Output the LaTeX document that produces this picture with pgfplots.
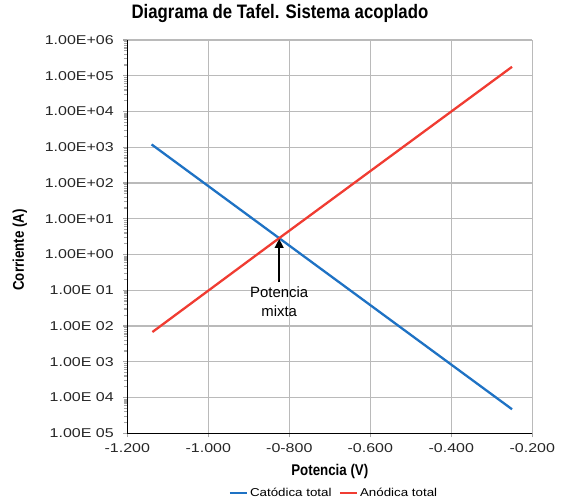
\documentclass[border=0pt]{standalone}
\usepackage{pgfplots}
\pgfplotsset{compat=1.18}
\usetikzlibrary{arrows.meta}
\usepackage{fontspec}
\setmainfont{Liberation Sans}
\newfontfamily\tickfont[FakeStretch=1.25]{Liberation Sans}
\newfontfamily\legfont[FakeStretch=1.17]{Liberation Sans}
\newfontfamily\titlefont[FakeStretch=0.86]{Liberation Sans}
\definecolor{catblue}{RGB}{30,114,196}
\definecolor{anored}{RGB}{240,60,50}
\begin{document}
\begin{tikzpicture}
\begin{semilogyaxis}[
  name=ax,
  scale only axis,
  width=405bp, height=393.3bp,
  xmin=-1.2, xmax=-0.2,
  ymin=1e-5, ymax=1e6,
  xtick={-1.2,-1.0,-0.8,-0.6,-0.4,-0.2},
  xticklabels={-1.200,-1.000,-0-800,-0.600,-0.400,-0.200},
  ytick={1e-5,1e-4,1e-3,1e-2,1e-1,1e0,1e1,1e2,1e3,1e4,1e5,1e6},
  yticklabels={1.00E 05,1.00E 04,1.00E 03,1.00E 02,1.00E 01,1.00E+00,1.00E+01,1.00E+02,1.00E+03,1.00E+04,1.00E+05,1.00E+06},
  minor ytick={},
  grid=major,
  major grid style={draw=black!27, line width=1.2bp},
  axis x line*=bottom, axis y line*=left,
  axis line style={black, line width=1.3bp},
  tick style={draw=black!35, line width=1.2bp},
  tick align=outside,
  major tick length=4bp,
  ticklabel style={font=\tickfont\fontsize{12.8bp}{14bp}\selectfont, text=black!85},
  yticklabel style={xshift=-6bp},
  xticklabel style={yshift=-3bp},
  title={\titlefont\bfseries Diagrama de Tafel. Sistema acoplado},
  title style={font=\fontsize{19.5bp}{22bp}\selectfont, at={(rel axis cs:0.377,1)}, anchor=base, yshift=16bp},
  xlabel={\titlefont\bfseries Potencia (V)},
  ylabel={\titlefont\bfseries Corriente (A)},
  xlabel style={font=\fontsize{15.5bp}{17bp}\selectfont, at={(rel axis cs:0.5,0)}, anchor=base, yshift=-42bp},
  ylabel style={font=\fontsize{15.5bp}{17bp}\selectfont, at={(rel axis cs:-0.265,0.466)}, anchor=center, rotate=0},
  legend columns=2,
  legend style={at={(rel axis cs:0.51,-0.152)}, anchor=center, draw=none, fill=none, font=\legfont\fontsize{11.4bp}{13bp}\selectfont, /tikz/every even column/.append style={column sep=5bp}, inner sep=0pt},
  legend image code/.code={\draw[#1, line width=2.5bp] (0bp,0bp) -- (17bp,0bp);},
  clip=false,
]
\addplot[catblue, line width=2.3bp] coordinates {(-1.14,1.2e3) (-0.825,2.87) (-0.25,4.7e-5)};
\addlegendentry{Catódica total}
\addplot[anored, line width=2.3bp] coordinates {(-1.138,6.8e-3) (-0.825,2.87) (-0.25,1.78e5)};
\addlegendentry{Anódica total}
\draw[-{Triangle[width=8.5bp,length=9bp]}, line width=2.4bp, black] (axis cs:-0.825,0.17) -- (axis cs:-0.825,2.75);
\node[align=center, font=\fontsize{14.9bp}{19.5bp}\selectfont, anchor=north, inner sep=0pt] at (axis cs:-0.825,0.13) {Potencia\\mixta};
\end{semilogyaxis}
\pgfresetboundingbox
\useasboundingbox ([xshift=-127.3bp,yshift=-66.7bp]ax.south west) rectangle ([xshift=36.7bp,yshift=40bp]ax.north east);
\end{tikzpicture}
\end{document}
